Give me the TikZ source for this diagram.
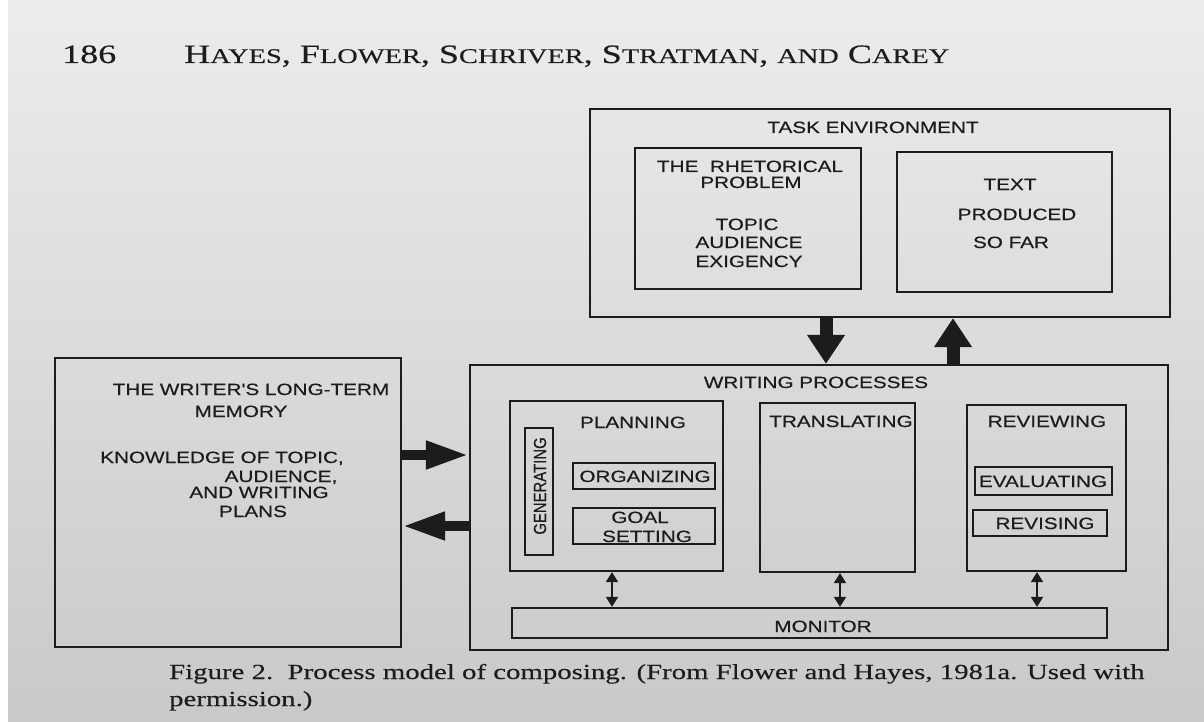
\documentclass[tikz,border=0pt]{standalone}
\usepackage{fontspec}
\setmainfont{Liberation Serif}
\newfontfamily\dfont[FakeStretch=1.27,FakeBold=0.4]{Liberation Sans}
\newfontfamily\gfont[FakeStretch=0.85,FakeBold=0.4]{Liberation Sans}
\newfontfamily\serfont[FakeStretch=1.36,FakeBold=0.3]{Liberation Serif}
\newfontfamily\capfont[FakeStretch=1.34,FakeBold=0.3]{Liberation Serif}
\usetikzlibrary{arrows.meta}
\definecolor{ink}{HTML}{1C1C1C}
\definecolor{bgtop}{HTML}{ECECEC}
\definecolor{bgbot}{HTML}{C9C9C9}
\newcommand\hsc{\fontsize{20.9}{22}\selectfont}
\begin{document}
\begin{tikzpicture}[x=1pt,y=-1pt,
  box/.style={draw=ink, line width=2.2pt, rectangle, inner sep=0pt},
  lbl/.style={font=\dfont\fontsize{16.3}{18}\selectfont, text=ink, inner sep=0pt, anchor=base},
  bigdown/.style={draw=ink, line width=13pt, -{Triangle[width=36pt,length=29pt]}},
  bigside/.style={draw=ink, line width=10pt, -{Triangle[width=26pt,length=43pt]}},
  twoway/.style={draw=ink, line width=1.8pt, {Triangle[width=12pt,length=10pt]}-{Triangle[width=12pt,length=10pt]}},
  serif/.style={text=ink, inner sep=0pt, anchor=base west}
]
\useasboundingbox (0,0) rectangle (1204,722);
\shade[top color=bgtop, bottom color=bgbot] (0,0) rectangle (1204,722);
\fill[white] (0,0) rectangle (8,722);

% header
\node[serif, font=\serfont\fontsize{26.5}{28}\selectfont] (pg) at (62,63) {186};
\node[serif, font=\serfont\fontsize{26.5}{28}\selectfont] (head) at (184,63)
  {H{\hsc AYES}, F{\hsc LOWER}, S{\hsc CHRIVER}, S{\hsc TRATMAN}, {\hsc AND} C{\hsc AREY}};

% task environment
\node[box, minimum width=580, minimum height=208] (task) at (880,213) {};
\node[lbl] (taskt) at (873,133) {TASK ENVIRONMENT};
\node[box, minimum width=226, minimum height=141] (rhet) at (748,218.5) {};
\node[lbl] (r1) at (750,172) {THE\ \ RHETORICAL};
\node[lbl] (r2) at (751,188) {PROBLEM};
\node[lbl] (r3) at (747,230) {TOPIC};
\node[lbl] (r4) at (749,248) {AUDIENCE};
\node[lbl] (r5) at (749,267) {EXIGENCY};
\node[box, minimum width=215, minimum height=140] (textp) at (1004.5,222) {};
\node[lbl] (t1) at (1010,190) {TEXT};
\node[lbl] (t2) at (1017,220) {PRODUCED};
\node[lbl] (t3) at (1011,248) {SO FAR};

% long-term memory
\node[box, minimum width=346, minimum height=289] (ltm) at (228,502.5) {};
\node[lbl] (m1) at (251,395) {THE WRITER'S LONG-TERM};
\node[lbl] (m2) at (241,417) {MEMORY};
\node[lbl] (m3) at (222,463) {KNOWLEDGE OF TOPIC,};
\node[lbl] (m4) at (281,482) {AUDIENCE,};
\node[lbl] (m5) at (259,498) {AND WRITING};
\node[lbl] (m6) at (253,517) {PLANS};

% writing processes
\node[box, minimum width=698, minimum height=285] (wp) at (819,507.5) {};
\node[lbl] (wpt) at (816,388) {WRITING PROCESSES};

\node[box, minimum width=213, minimum height=170] (plan) at (616.5,486) {};
\node[lbl] (plant) at (633,428) {PLANNING};
\node[box, minimum width=28, minimum height=127] (gen) at (539,491.5) {};
\node[text=ink, inner sep=0pt, rotate=90, font=\gfont\fontsize{17.5}{19}\selectfont] (gent) at (540,486) {GENERATING};
\node[box, minimum width=142, minimum height=26] (org) at (644,476) {};
\node[lbl] (orgt) at (645,482) {ORGANIZING};
\node[box, minimum width=142, minimum height=36] (goal) at (644,526) {};
\node[lbl] (goal1) at (640,523) {GOAL};
\node[lbl] (goal2) at (647,542) {SETTING};

\node[box, minimum width=155, minimum height=169] (trans) at (837.5,487.5) {};
\node[lbl] (transt) at (841,427) {TRANSLATING};

\node[box, minimum width=159, minimum height=166] (rev) at (1046.5,488) {};
\node[lbl] (revt) at (1047,427) {REVIEWING};
\node[box, minimum width=137, minimum height=28] (eval) at (1043.5,481) {};
\node[lbl] (evalt) at (1043,487) {EVALUATING};
\node[box, minimum width=134, minimum height=26] (revis) at (1040,523) {};
\node[lbl] (revist) at (1045,529) {REVISING};

\node[box, minimum width=595, minimum height=30] (mon) at (809.5,623) {};
\node[lbl] (mont) at (823,632) {MONITOR};

% connector positions
\coordinate (cdown) at (826,0);
\coordinate (cup) at (953,0);
\coordinate (cright) at (0,455);
\coordinate (cleft) at (0,526);
\coordinate (cp) at (612,0);
\coordinate (ct) at (840,0);
\coordinate (cr) at (1037,0);

% connectors
\draw[bigdown] (task.south -| cdown) -- (wp.north -| cdown);
\draw[bigdown] (wp.north -| cup) -- (task.south -| cup);
\draw[bigside] (ltm.east |- cright) -- (wp.west |- cright);
\draw[bigside] (wp.west |- cleft) -- (ltm.east |- cleft);
\draw[twoway] (plan.south -| cp) -- (mon.north -| cp);
\draw[twoway] (trans.south -| ct) -- (mon.north -| ct);
\draw[twoway] (rev.south -| cr) -- (mon.north -| cr);

% caption
\node[serif, font=\capfont\fontsize{21.5}{24}\selectfont] (cap1) at (169,679)
  {Figure 2.\ \ Process model of composing. (From Flower and Hayes, 1981a. Used with};
\node[serif, font=\capfont\fontsize{21.5}{24}\selectfont] (cap2) at (169,706) {permission.)};
\end{tikzpicture}
\end{document}
